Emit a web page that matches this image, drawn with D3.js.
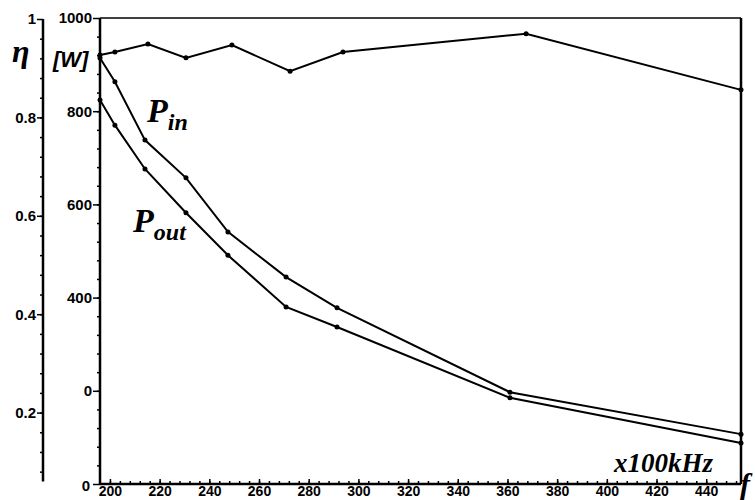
<!DOCTYPE html>
<meta charset="utf-8">
<style>

    body {
        margin: 0;
        background: #fff;
    }

    text {
        fill: #000;
    }

    .axis text {
        font-family: "Liberation Sans", Arial, sans-serif;
        font-size: 15px;
        font-weight: bold;
    }

    .x.axis text {
        font-size: 14px;
    }

    .axis line {
        stroke: #000;
        stroke-width: 1.5;
    }

    .axis path {
        display: none;
    }

    path.line {
        fill: none;
        stroke: #000;
        stroke-width: 2;
    }

    .serif {
        font-family: "Liberation Serif", "Times New Roman", serif;
        font-weight: bold;
        font-style: italic;
    }

</style>
<body>
<div id="main"></div>
<script src="https://cdn.jsdelivr.net/npm/d3@7/dist/d3.min.js"></script>
<script>

    // frequency, x100kHz
    var freqEta = [196, 202, 215.3, 230.6, 249.1, 272.5, 293.8, 367.5, 454];
    var eta     = [0.927, 0.933, 0.949, 0.921, 0.947, 0.894, 0.933, 0.970, 0.856];

    var freqP = [196, 202, 214.1, 230.6, 247.5, 270.9, 291.4, 361, 454];
    var pIn   = [914, 863, 738, 657, 541, 444, 378, 197, 107];
    var pOut  = [824, 770, 676, 582, 491, 380, 337, 185, 88];

    var xTicks   = [200, 220, 240, 260, 280, 300, 320, 340, 360, 380, 400, 420, 440];
    var etaTicks = [0.2, 0.4, 0.6, 0.8, 1];
    var wTicks   = [0, 200, 400, 600, 800, 1000];
    var wLabels  = ["0", "0", "400", "600", "800", "1000"];

    var width = 755,
        height = 500;

    var x = d3.scaleLinear().domain([196, 454]).range([100, 741]);
    var yW = d3.scaleLinear().domain([0, 1000]).range([484, 18]);
    var yEta = d3.scaleLinear().domain([0, 1]).range([511, 19]);

    var svg = d3.select("#main").append("svg")
            .attr("width", width)
            .attr("height", height);

    // frame
    svg.append("line")
            .attr("x1", x(196)).attr("x2", x(454))
            .attr("y1", yW(1000)).attr("y2", yW(1000))
            .attr("stroke", "#000").attr("stroke-width", 1.5);
    svg.append("line")
            .attr("x1", x(454)).attr("x2", x(454))
            .attr("y1", yW(1000)).attr("y2", yW(0))
            .attr("stroke", "#000").attr("stroke-width", 2.5);
    svg.append("line")
            .attr("x1", x(196)).attr("x2", x(196))
            .attr("y1", yW(1000)).attr("y2", yW(0))
            .attr("stroke", "#000").attr("stroke-width", 2.5);
    svg.append("line")
            .attr("x1", x(196)).attr("x2", x(454))
            .attr("y1", yW(0)).attr("y2", yW(0))
            .attr("stroke", "#000").attr("stroke-width", 2.5);

    // eta axis (outer left)
    svg.append("line")
            .attr("x1", 43).attr("x2", 43)
            .attr("y1", yEta(1)).attr("y2", yEta(0.06))
            .attr("stroke", "#000").attr("stroke-width", 2.5);

    svg.append("g")
            .attr("class", "axis")
            .attr("transform", "translate(43,0)")
            .call(d3.axisLeft(yEta).tickValues(d3.range(0.08, 1, 0.04)).tickSize(3).tickFormat(""));

    svg.append("g")
            .attr("class", "axis")
            .attr("transform", "translate(43,0)")
            .call(d3.axisLeft(yEta).tickValues(etaTicks).tickSize(6).tickPadding(1)
                .tickFormat(function(d) { return d === 1 ? "1" : d3.format(".1f")(d); }));

    // W axis (inner left)
    svg.append("g")
            .attr("class", "axis")
            .attr("transform", "translate(" + x(196) + ",0)")
            .call(d3.axisLeft(yW).tickValues(d3.range(40, 1000, 40)).tickSize(3).tickFormat(""));

    var wAxis = svg.append("g")
            .attr("class", "axis")
            .attr("transform", "translate(" + x(196) + ",0)")
            .call(d3.axisLeft(yW).tickValues(wTicks).tickSize(7).tickPadding(1)
                .tickFormat(function(d, i) { return wLabels[i]; }));
    wAxis.selectAll(".tick").filter(function(d) { return d === 0; })
            .select("text").attr("x", -10).attr("dy", "0.45em");

    // x axis
    svg.append("g")
            .attr("class", "x axis")
            .attr("transform", "translate(0," + yW(0) + ")")
            .call(d3.axisBottom(x).tickValues(d3.range(200, 454, 4)).tickSize(-3).tickFormat(""));

    var xAxis = svg.append("g")
            .attr("class", "x axis")
            .attr("transform", "translate(0," + yW(0) + ")")
            .call(d3.axisBottom(x).tickValues(xTicks).tickSize(-5).tickFormat(d3.format("d")));
    xAxis.selectAll("text").attr("y", 2).attr("dy", "0.71em");

    // curves
    var etaData = freqEta.map(function(f, i) { return [f, eta[i]]; });
    var inData = freqP.map(function(f, i) { return [f, pIn[i]]; });
    var outData = freqP.map(function(f, i) { return [f, pOut[i]]; });

    var lineEta = d3.line().x(function(d) { return x(d[0]); }).y(function(d) { return yEta(d[1]); });
    var lineW = d3.line().x(function(d) { return x(d[0]); }).y(function(d) { return yW(d[1]); });

    svg.append("path").attr("class", "line").datum(etaData).attr("d", lineEta);
    svg.append("path").attr("class", "line").datum(inData).attr("d", lineW);
    svg.append("path").attr("class", "line").datum(outData).attr("d", lineW);

    svg.selectAll("circle.eta").data(etaData).enter().append("circle")
            .attr("class", "eta")
            .attr("cx", function(d) { return x(d[0]); })
            .attr("cy", function(d) { return yEta(d[1]); })
            .attr("r", 2.5);
    svg.selectAll("circle.pin").data(inData).enter().append("circle")
            .attr("class", "pin")
            .attr("cx", function(d) { return x(d[0]); })
            .attr("cy", function(d) { return yW(d[1]); })
            .attr("r", 2.5);
    svg.selectAll("circle.pout").data(outData).enter().append("circle")
            .attr("class", "pout")
            .attr("cx", function(d) { return x(d[0]); })
            .attr("cy", function(d) { return yW(d[1]); })
            .attr("r", 2.5);

    // labels
    svg.append("text").attr("class", "serif")
            .attr("x", 12).attr("y", 62)
            .style("font-size", "32px")
            .text("η");

    svg.append("text")
            .attr("x", 53).attr("y", 67)
            .style("font", "italic bold 22px 'Liberation Sans', Arial, sans-serif")
            .text("[W]");

    var pin = svg.append("text").attr("class", "serif")
            .attr("x", 147).attr("y", 122)
            .style("font-size", "34px");
    pin.append("tspan").text("P");
    pin.append("tspan").attr("dy", 8).style("font-size", "24px").text("in");

    var pout = svg.append("text").attr("class", "serif")
            .attr("x", 133).attr("y", 232)
            .style("font-size", "34px");
    pout.append("tspan").text("P");
    pout.append("tspan").attr("dy", 8).style("font-size", "24px").text("out");

    svg.append("text").attr("class", "serif")
            .attr("x", 614).attr("y", 472)
            .style("font-size", "27px")
            .text("x100kHz");

    svg.append("text").attr("class", "serif")
            .attr("x", 740).attr("y", 494)
            .style("font-size", "30px")
            .text("f");

</script>
